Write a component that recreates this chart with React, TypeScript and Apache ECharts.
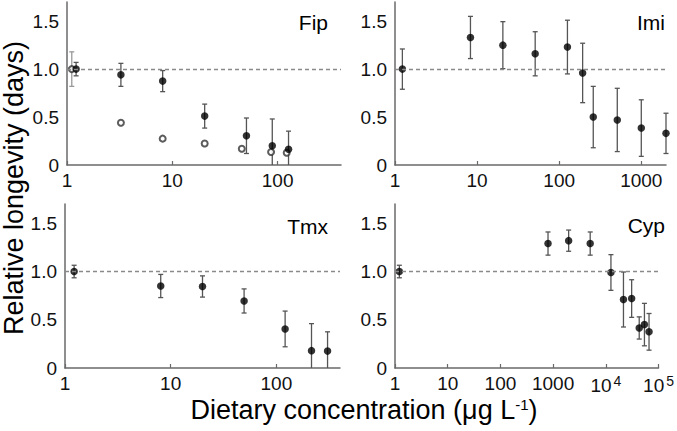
import React, { useEffect, useRef } from "react";
import * as echarts from "echarts";

// ---- data ----
const fipConc = [1.22, 3.25, 8.1, 20.3, 50.6, 89, 127];
const fipMean = [1.0, 0.94, 0.875, 0.51, 0.305, 0.2, 0.163];
const fipErr = [0.07, 0.12, 0.11, 0.125, 0.185, 0.28, 0.19];
const fipOpenConc = [1.11, 3.25, 8.1, 20.3, 45.7, 86.7, 122];
const fipOpenMean = [1.0, 0.44, 0.275, 0.225, 0.17, 0.135, 0.128];
const fipOpenErr = [0.18, 0, 0, 0, 0, 0, 0];

const imiConc = [1.23, 8.3, 20.6, 51, 126, 193, 260, 510, 1000, 2000];
const imiMean = [1.0, 1.33, 1.25, 1.16, 1.23, 0.96, 0.5, 0.47, 0.385, 0.33];
const imiErr = [0.21, 0.22, 0.245, 0.23, 0.28, 0.31, 0.32, 0.33, 0.295, 0.21];

const tmxConc = [1.22, 8.05, 20, 49.5, 121, 215, 305];
const tmxMean = [1.0, 0.85, 0.845, 0.695, 0.405, 0.18, 0.175];
const tmxErr = [0.065, 0.12, 0.11, 0.125, 0.185, 0.28, 0.2];

const cypConc = [1.21, 800, 1970, 5050, 12500, 21600, 30900, 43000, 54000, 66000];
const cypMean = [1.0, 1.29, 1.32, 1.29, 0.99, 0.71, 0.72, 0.415, 0.45, 0.375];
const cypErr = [0.065, 0.12, 0.11, 0.12, 0.185, 0.285, 0.195, 0.115, 0.22, 0.19];

const panelNames = ["Fip", "Imi", "Tmx", "Cyp"];
const xMaxes = [400, 2000, 400, 100000];
const yTicks = [0, 0.5, 1.0, 1.5];
const xTitle = "Dietary concentration (μg L";
const yTitle = "Relative longevity (days)";

const FONT = "'Liberation Sans', Arial, sans-serif";
const AXIS_COLOR = "#6a6a6a";
const ERR_COLOR = "#555";

export default function App() {
  const ref = useRef<HTMLDivElement>(null);
  useEffect(() => {
    if (!ref.current) return;
    const chart = echarts.init(ref.current, null, { renderer: "svg" });

    const grids = [
      { left: 67, top: 2, width: 274, height: 163 },
      { left: 395, top: 2, width: 271, height: 163 },
      { left: 65, top: 204, width: 275, height: 164 },
      { left: 395, top: 204, width: 264, height: 164 },
    ];

    const xAxes = grids.map((_, i) => ({
      type: "log",
      logBase: 10,
      gridIndex: i,
      min: 1,
      max: xMaxes[i],
      axisLine: { lineStyle: { color: AXIS_COLOR, width: 1.5 } },
      axisTick: { inside: true, length: 4, lineStyle: { color: AXIS_COLOR, width: 1.2 } },
      splitLine: { show: false },
      axisLabel: {
        showMaxLabel: i === 3,
        margin: 6,
        color: "#111",
        fontFamily: FONT,
        fontSize: 19,
        formatter: (v: number) => {
          const p = Math.round(Math.log10(v));
          if (Math.abs(Math.log10(v) - p) > 1e-6) return "";
          if (p >= 4) return "10{sup|" + p + "}";
          return String(Math.round(v));
        },
        rich: {
          sup: { fontSize: 14, fontFamily: FONT, color: "#111", verticalAlign: "bottom", padding: [0, 0, 9, 2] },
        },
      },
    }));

    const yAxes = grids.map((_, i) => ({
      type: "value",
      gridIndex: i,
      min: 0,
      max: 1.7,
      axisLine: { show: true, lineStyle: { color: AXIS_COLOR, width: 1.5 } },
      axisTick: { show: false, customValues: yTicks },
      splitLine: { show: false },
      axisLabel: {
        customValues: yTicks,
        margin: 8,
        color: "#111",
        fontFamily: FONT,
        fontSize: 19,
        formatter: (v: number) => (v === 0 ? "0" : v.toFixed(1)),
      },
    }));

    const errSeries = (conc: number[], mean: number[], err: number[], idx: number, color: string) => ({
      type: "custom",
      xAxisIndex: idx,
      yAxisIndex: idx,
      encode: { x: 0, y: 1 },
      data: conc.map((c, k) => [c, mean[k], err[k]]).filter((d) => d[2] > 0),
      renderItem: (params: any, api: any) => {
        const x = api.value(0);
        const y = api.value(1);
        const e = api.value(2);
        const top = api.coord([x, y + e]);
        const low = y - e;
        const bot = api.coord([x, Math.max(0, low)]);
        const style = { stroke: color, lineWidth: 1.3 };
        const children: any[] = [
          { type: "line", shape: { x1: top[0], y1: top[1], x2: bot[0], y2: bot[1] }, style },
          { type: "line", shape: { x1: top[0] - 2.5, y1: top[1], x2: top[0] + 2.5, y2: top[1] }, style },
        ];
        if (low > 0) {
          children.push({ type: "line", shape: { x1: bot[0] - 2.5, y1: bot[1], x2: bot[0] + 2.5, y2: bot[1] }, style });
        }
        return { type: "group", children };
      },
      z: 2,
    });

    const dots = (conc: number[], mean: number[], idx: number, withLine: boolean) => ({
      type: "scatter",
      xAxisIndex: idx,
      yAxisIndex: idx,
      symbol: "circle",
      symbolSize: 7.5,
      itemStyle: { color: "#000" },
      data: conc.map((c, k) => [c, mean[k]]),
      z: 4,
      markLine: withLine
        ? {
            silent: true,
            symbol: "none",
            label: { show: false },
            lineStyle: { color: "#8a8a8a", type: [4, 3], width: 1.3 },
            data: [{ yAxis: 1.0 }],
          }
        : undefined,
    });

    const series: any[] = [
      errSeries(fipOpenConc, fipOpenMean, fipOpenErr, 0, "#999"),
      {
        type: "scatter",
        xAxisIndex: 0,
        yAxisIndex: 0,
        symbol: "emptyCircle",
        symbolSize: 6,
        itemStyle: { color: "#333", borderColor: "#333", borderWidth: 1 },
        data: fipOpenConc.map((c, k) => [c, fipOpenMean[k]]),
        z: 3,
      },
      errSeries(fipConc, fipMean, fipErr, 0, ERR_COLOR),
      dots(fipConc, fipMean, 0, true),
      errSeries(imiConc, imiMean, imiErr, 1, ERR_COLOR),
      dots(imiConc, imiMean, 1, true),
      errSeries(tmxConc, tmxMean, tmxErr, 2, ERR_COLOR),
      dots(tmxConc, tmxMean, 2, true),
      errSeries(cypConc, cypMean, cypErr, 3, ERR_COLOR),
      dots(cypConc, cypMean, 3, true),
    ];

    const labelPos = [
      [328, 22],
      [665, 22],
      [328, 226],
      [665, 225],
    ];

    const graphic: any[] = panelNames.map((n, i) => ({
      type: "text",
      x: labelPos[i][0],
      y: labelPos[i][1],
      style: {
        text: n,
        font: `21px ${FONT}`,
        fill: "#000",
        align: "right",
        verticalAlign: "middle",
        textAlign: "right",
        textVerticalAlign: "middle",
      },
    }));
    graphic.push({
      type: "text",
      x: 14,
      y: 188,
      rotation: Math.PI / 2,
      style: {
        text: yTitle,
        font: `27px ${FONT}`,
        fill: "#000",
        align: "center",
        verticalAlign: "middle",
        textAlign: "center",
        textVerticalAlign: "middle",
      },
    });
    graphic.push({
      type: "text",
      x: 364,
      y: 410,
      style: {
        text: xTitle + "{sup|-1}" + ")",
        font: `27px ${FONT}`,
        fill: "#000",
        align: "center",
        verticalAlign: "middle",
        textAlign: "center",
        textVerticalAlign: "middle",
        rich: {
          sup: { fontSize: 15, fontFamily: FONT, fill: "#000", verticalAlign: "bottom", padding: [0, 0, 12, 0] },
        },
      },
    });

    chart.setOption({
      animation: false,
      backgroundColor: "#fff",
      grid: grids,
      xAxis: xAxes,
      yAxis: yAxes,
      series,
      graphic,
    });
    return () => chart.dispose();
  }, []);

  return (
    <div
      ref={ref}
      style={{ position: "fixed", left: 0, top: 0, width: 677, height: 431 }}
    />
  );
}
